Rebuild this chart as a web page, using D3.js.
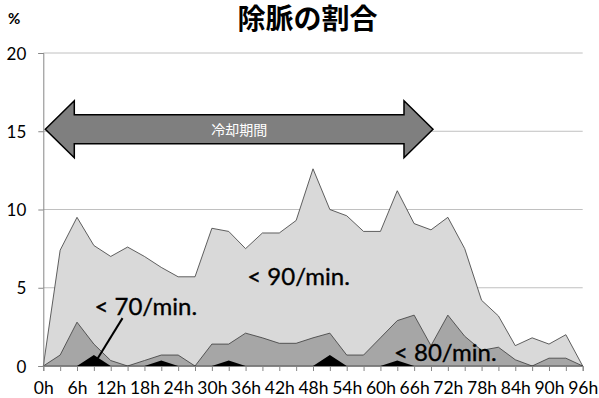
<!DOCTYPE html>
<html>
<head>
<meta charset="utf-8">
<script src="https://cdn.jsdelivr.net/npm/d3@7"></script>
<style>
  html, body { margin: 0; padding: 0; background: #fff; }
  svg { display: block; }
</style>
</head>
<body>
<svg id="chart" width="599" height="398"></svg>
<script>
// Hours since admission (category axis, every 3h)
const hours = [0, 3, 6, 9, 12, 15, 18, 21, 24, 27, 30, 33, 36, 39, 42, 45, 48,
               51, 54, 57, 60, 63, 66, 69, 72, 75, 78, 81, 84, 87, 90, 93, 96];
// Share of patients (%) with heart rate below each threshold
const below90 = [0, 7.4, 9.5, 7.7, 7.0, 7.6, 7.0, 6.3, 5.7, 5.7, 8.8, 8.6, 7.5, 8.5, 8.5, 9.3, 12.6,
                 10.0, 9.6, 8.6, 8.6, 11.2, 9.1, 8.7, 9.5, 7.5, 4.2, 3.2, 1.3, 1.8, 1.4, 2.0, 0];
const below80 = [0, 0.7, 2.8, 1.4, 0.35, 0, 0.35, 0.7, 0.7, 0, 1.4, 1.4, 2.1, 1.8, 1.45, 1.45, 1.8,
                 2.1, 0.7, 0.7, 1.8, 2.9, 3.25, 1.3, 3.25, 1.9, 1.0, 1.2, 0.4, 0, 0.5, 0.5, 0];
const below70 = [0, 0, 0, 0.7, 0, 0, 0, 0.35, 0, 0, 0, 0.35, 0, 0, 0, 0, 0,
                 0.7, 0, 0, 0, 0.35, 0, 0, 0, 0, 0, 0, 0, 0, 0, 0, 0];
const xTickLabels = ["0h", "6h", "12h", "18h", "24h", "30h", "36h", "42h", "48h",
                     "54h", "60h", "66h", "72h", "78h", "84h", "90h", "96h"];
const yTicks = [0, 5, 10, 15, 20];
// Cooling period shown as a double arrow (hours) at the 15% level
const coolingPeriod = [0, 69];
const coolingLevel = 15;

const svg = d3.select("#chart");
const plotLeft = 43.3, plotRight = 582.7, plotTop = 53, plotBottom = 366;

const x = d3.scaleLinear().domain([0, 96]).range([plotLeft, plotRight]);
const y = d3.scaleLinear().domain([0, 20]).range([plotBottom, plotTop]);

const font = "Lato, 'Open Sans', sans-serif";

// Horizontal gridlines
svg.append("g")
  .selectAll("line")
  .data(yTicks.filter(d => d > 0))
  .join("line")
  .attr("x1", plotLeft).attr("x2", plotRight)
  .attr("y1", d => y(d)).attr("y2", d => y(d))
  .attr("stroke", "#c0c0c0").attr("stroke-width", 1);

// Areas: widest threshold at the back
const layers = [
  { values: below90, fill: "#d9d9d9", stroke: "#3a3a3a" },
  { values: below80, fill: "#a6a6a6", stroke: "#3a3a3a" },
  { values: below70, fill: "#000000", stroke: "none" }
];
layers.forEach(layer => {
  const area = d3.area()
    .x((d, i) => x(hours[i]))
    .y0(y(0))
    .y1(d => y(d));
  svg.append("path")
    .datum(layer.values)
    .attr("d", area)
    .attr("fill", layer.fill)
    .attr("stroke", layer.stroke)
    .attr("stroke-width", 0.8)
    .attr("stroke-linejoin", "miter");
});

// Y axis
const yAxis = svg.append("g")
  .attr("transform", `translate(${plotLeft},0)`)
  .call(d3.axisLeft(y).tickValues(yTicks).tickSize(5).tickPadding(12).tickFormat(d3.format("d")));
yAxis.select(".domain").attr("stroke", "#868686");
yAxis.selectAll(".tick line").attr("stroke", "#868686");
yAxis.selectAll(".tick text")
  .attr("font-family", font).attr("font-size", 17).attr("fill", "#000")
  .attr("dy", "0.36em");

// X axis: tick every 3h, label every 6h
const xAxis = svg.append("g")
  .attr("transform", `translate(0,${plotBottom})`)
  .call(d3.axisBottom(x).tickValues(hours).tickSize(5).tickPadding(4)
    .tickFormat(d => d % 6 === 0 ? xTickLabels[d / 6] : ""));
xAxis.select(".domain").attr("stroke", "#868686");
xAxis.selectAll(".tick line").attr("stroke", "#868686");
xAxis.selectAll(".tick text")
  .attr("font-family", font).attr("font-size", 17.5).attr("fill", "#000")
  .attr("dy", "18.5px");

// Series labels
const labels = [
  { text: "< 90/min.", h: 36.3, v: 5.18 },
  { text: "< 70/min.", h: 9.1, v: 3.25 },
  { text: "< 80/min.", h: 62.4, v: 0.33 }
];
svg.append("g")
  .selectAll("text")
  .data(labels)
  .join("text")
  .attr("x", d => x(d.h)).attr("y", d => y(d.v))
  .attr("font-family", font).attr("font-size", 24).attr("fill", "#000")
  .attr("stroke", "#000").attr("stroke-width", 0.35)
  .text(d => d.text);

// Leader line from the "< 70/min." label to its area
svg.append("line")
  .attr("x1", x(14.1)).attr("y1", y(3.06))
  .attr("x2", x(9.7)).attr("y2", y(0.5))
  .attr("stroke", "#000").attr("stroke-width", 2);

// Cooling period double arrow
const ax0 = x(coolingPeriod[0]) + 2, ax1 = x(coolingPeriod[1]) + 2;
const ay = y(coolingLevel) - 2;
const head = 29, shaftHalf = 14.5, headHalf = 28.5;
const arrowPts = [
  [ax0, ay], [ax0 + head, ay - headHalf], [ax0 + head, ay - shaftHalf],
  [ax1 - head, ay - shaftHalf], [ax1 - head, ay - headHalf], [ax1, ay],
  [ax1 - head, ay + headHalf], [ax1 - head, ay + shaftHalf],
  [ax0 + head, ay + shaftHalf], [ax0 + head, ay + headHalf]
];
svg.append("path")
  .attr("d", d3.line()(arrowPts) + "Z")
  .attr("fill", "#7f7f7f").attr("stroke", "#000").attr("stroke-width", 1.5)
  .attr("stroke-linejoin", "miter");
svg.append("text")
  .attr("x", (ax0 + ax1) / 2).attr("y", ay)
  .attr("text-anchor", "middle").attr("dominant-baseline", "central")
  .attr("font-family", "'Noto Sans CJK JP', sans-serif").attr("font-size", 14)
  .attr("fill", "#fff")
  .text("冷却期間");

// Title and unit
svg.append("text")
  .attr("x", 307.5).attr("y", 29)
  .attr("text-anchor", "middle")
  .attr("font-family", "'Noto Sans CJK JP', sans-serif").attr("font-size", 28)
  .attr("font-weight", "bold").attr("fill", "#000")
  .text("除脈の割合");
svg.append("text")
  .attr("x", 8).attr("y", 23.5)
  .attr("font-family", font).attr("font-size", 15)
  .attr("font-weight", "bold").attr("fill", "#000")
  .text("%");
</script>
</body>
</html>
